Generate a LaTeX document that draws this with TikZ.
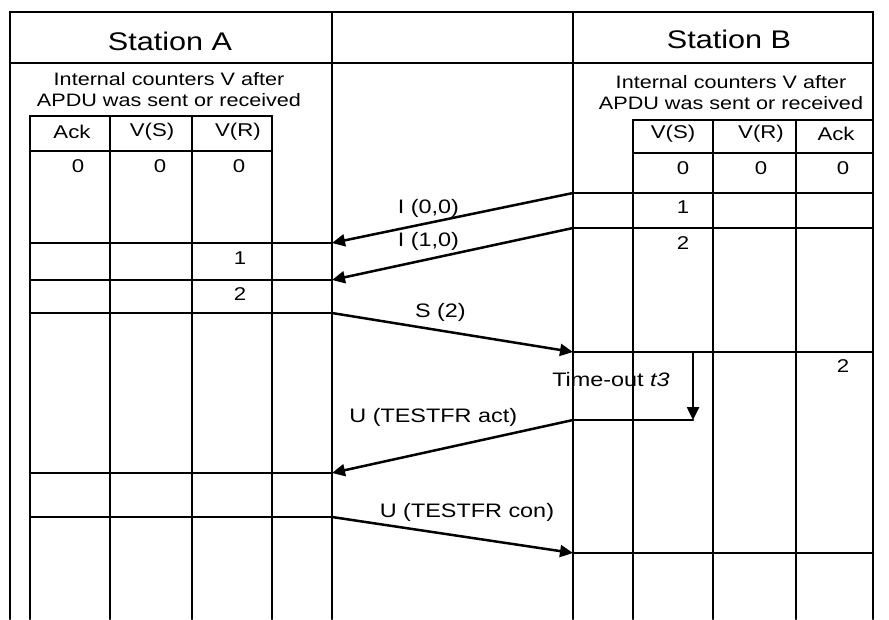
\documentclass[tikz,border=0pt]{standalone}
\usepackage{fontspec}
\setmainfont{Liberation Sans}[FakeStretch=1.2]
\usetikzlibrary{arrows.meta,positioning}

\begin{document}
\begin{tikzpicture}[
  x=1pt, y=-1pt,
  grid/.style={line width=2.5pt, line cap=round},
  msg/.style={-{Triangle[length=13pt,width=12pt]}, line width=2.5pt},
  stitle/.style={font=\fontsize{25.5}{30}\selectfont, inner sep=0pt},
  ctext/.style={font=\fontsize{18}{21}\selectfont, align=center, inner sep=0pt},
  lbl/.style={font=\fontsize{19.5}{23}\selectfont, inner sep=0pt},
  val/.style={font=\fontsize{18.5}{22}\selectfont, inner sep=0pt}
]
  \useasboundingbox (0,0) rectangle (889,619);
  \fill[white] (0,0) rectangle (889,619);

  % frame and header
  \draw[grid] (10,619) -- (10,12) -- (873,12) -- (873,619);
  \draw[grid] (10,63) -- (873,63);
  \foreach \x in {332,573} \draw[grid] (\x,12) -- (\x,619);

  % table of station A
  \foreach \x in {30,110,192,272} \draw[grid] (\x,116) -- (\x,619);
  \foreach \y in {116,151} \draw[grid] (30,\y) -- (272,\y);
  \foreach \y in {243,280,313,473,517} \draw[grid] (30,\y) -- (332,\y);

  % table of station B
  \foreach \x in {633,713,796} \draw[grid] (\x,120) -- (\x,619);
  \foreach \y in {120,153} \draw[grid] (633,\y) -- (873,\y);
  \foreach \y in {193,228,352,553} \draw[grid] (573,\y) -- (873,\y);

  \node[stitle] (stA) at (170,41) {Station A};
  \node[stitle] (stB) at (729,39) {Station B};
  \node[ctext] (capA) at (169,90) {Internal counters V after\\APDU was sent or received};
  \node[ctext] (capB) at (731,93) {Internal counters V after\\APDU was sent or received};

  \node[val] (hA1) at (72,132) {Ack};
  \node[val] (hA2) at (152,132) {V(S)};
  \node[val] (hA3) at (238,132) {V(R)};
  \node[val] (hB1) at (673,134) {V(S)};
  \node[val] (hB2) at (761,134) {V(R)};
  \node[val] (hB3) at (836,134) {Ack};

  \node[val] (vA1) at (78,166) {0};
  \node[val] (vA2) at (160,166) {0};
  \node[val] (vA3) at (239,166) {0};
  \node[val] (vA4) at (240,258) {1};
  \node[val] (vA5) at (240,294) {2};
  \node[val] (vB1) at (683,168) {0};
  \node[val] (vB2) at (761,168) {0};
  \node[val] (vB3) at (843,168) {0};
  \node[val] (vB4) at (683,207) {1};
  \node[val] (vB5) at (683,243) {2};
  \node[val] (vB6) at (843,366) {2};

  % message ends
  \coordinate (a1) at (332,243);
  \coordinate (a2) at (332,280);
  \coordinate (a3) at (332,313);
  \coordinate (a4) at (332,473);
  \coordinate (a5) at (332,517);
  \coordinate (b1) at (573,193);
  \coordinate (b2) at (573,228);
  \coordinate (b3) at (573,352);
  \coordinate (b4) at (573,420);
  \coordinate (b5) at (573,553);
  \coordinate (t0) at (693,352);
  \coordinate (t1) at (693,420);

  \draw[msg] (b1) -- node[lbl, pos=0.6, yshift=15pt] (m1) {I (0,0)} (a1);
  \draw[msg] (b2) -- node[lbl, pos=0.6, yshift=18pt] (m2) {I (1,0)} (a2);
  \draw[msg] (a3) -- node[lbl, pos=0.45, yshift=18pt] (m3) {S (2)} (b3);
  \draw[msg] (t0) -- (t1);
  \draw[grid] (t1) -- (b4);
  \node[lbl] (tout) at (611,380) {Time-out \textit{t3}};
  \draw[msg] (b4) -- node[lbl, pos=0.58, yshift=33pt] (m4) {U (TESTFR act)} (a4);
  \draw[msg] (a5) -- node[lbl, pos=0.56, yshift=25pt] (m5) {U (TESTFR con)} (b5);
\end{tikzpicture}
\end{document}
